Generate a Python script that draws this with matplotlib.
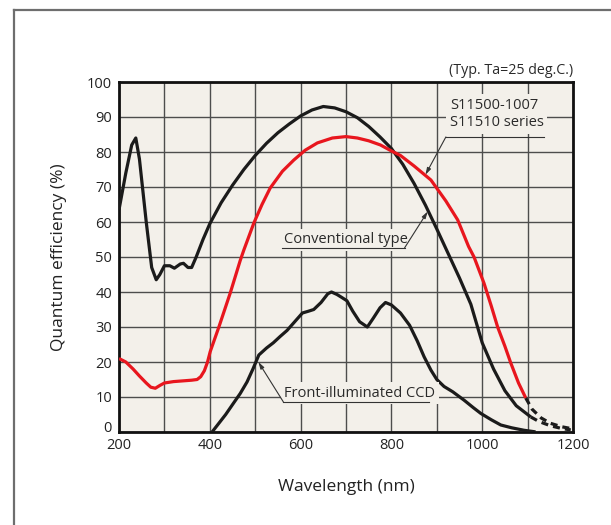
import matplotlib
matplotlib.use("Agg")
import matplotlib.pyplot as plt
import matplotlib.transforms as mtransforms
from matplotlib.lines import Line2D

plt.rcParams['font.family'] = ['Open Sans', 'DejaVu Sans']

# Spectral response data (wavelength in nm, quantum efficiency in %)
wl_conv = [200, 215, 228, 237, 245, 260, 272, 282, 290, 300, 312, 322, 335, 342,
           352, 360, 370, 385, 400, 425, 450, 475, 500, 525, 550, 575, 600, 625,
           650, 675, 700, 725, 750, 775, 800, 825, 850, 875, 900, 925, 950, 975,
           1000, 1025, 1050, 1075, 1100, 1107]
qe_conv = [63.5, 74, 82, 84, 78, 60, 47, 43.5, 45, 47.5, 47.5, 46.8, 48, 48.2,
           47, 47, 50, 55, 59.5, 65.5, 70.5, 75, 79, 82.5, 85.5, 88, 90.3, 92,
           93, 92.6, 91.5, 89.8, 87.3, 84.3, 81, 76.5, 71, 64.8, 58, 51, 44, 36.5,
           25.5, 18, 11.8, 7.5, 5, 4.3]
wl_conv_ext = [1107, 1125, 1150, 1175, 1195]
qe_conv_ext = [4.3, 3, 1.8, 1.0, 0.6]

wl_s11500 = [200, 215, 231, 245, 260, 270, 280, 290, 300, 320, 340, 360, 372, 380,
             388, 395, 401, 420, 445, 467, 475, 497, 515, 533, 560, 585, 610, 637,
             670, 700, 725, 750, 776, 800, 820, 850, 887, 920, 946, 970, 982, 1004,
             1020, 1034, 1050, 1063, 1080, 1096]
qe_s11500 = [21, 20, 18, 16, 14, 12.8, 12.5, 13.3, 14, 14.4, 14.6, 14.8, 15, 15.8,
             17.5, 20, 23, 30, 39.7, 49, 52, 59.7, 65, 69.7, 74.5, 77.7, 80.5, 82.6,
             84, 84.4, 84, 83.2, 82, 80.3, 79, 76, 72, 66, 60.6, 53, 50, 42.5,
             36, 30, 24.5, 19.7, 14, 9.7]
wl_s11500_ext = [1096, 1110, 1130, 1150, 1175, 1195]
qe_s11500_ext = [9.7, 6.5, 4.0, 2.5, 1.5, 1.0]

wl_fi = [405, 420, 435, 452, 467, 482, 495, 508, 525, 540, 555, 570, 587, 604,
         617, 629, 645, 660, 668, 680, 690, 702, 715, 730, 747, 760, 775, 787,
         800, 820, 840, 857, 872, 887, 900, 916, 935, 960, 980, 997, 1020, 1041,
         1065, 1092, 1114]
qe_fi = [0, 2.5, 5, 8.2, 11, 14.3, 18, 22, 24, 25.5, 27.3, 29, 31.5, 34,
         34.5, 35, 37, 39.5, 40, 39.3, 38.5, 37.5, 34.5, 31.5, 30, 32.5, 35.5, 37,
         36.3, 34, 30.5, 26, 21.5, 17.7, 15, 13, 11.5, 9.1, 7, 5.3, 3.5, 2,
         1.2, 0.5, 0.1]

x_ticks = [200, 400, 600, 800, 1000, 1200]
y_ticks = [0, 10, 20, 30, 40, 50, 60, 70, 80, 90, 100]

BG = '#f3f0ea'
GRID = '#4d4d4d'
RED = '#e8161e'
DARK = '#1b1b1b'

fig = plt.figure(figsize=(6.11, 5.25), dpi=100)
ax = fig.add_axes([119 / 611, 1 - 432 / 525, 454 / 611, 350 / 525])
ax.set_facecolor(BG)

ax.set_xlim(200, 1200)
ax.set_ylim(0, 100)
ax.set_xticks(x_ticks)
ax.set_xticks(range(200, 1201, 100), minor=True)
ax.set_yticks(y_ticks)
ax.tick_params(axis='both', which='both', length=0, labelsize=10.5, colors='#222222')
ax.tick_params(axis='y', pad=5)
ax.tick_params(axis='x', pad=4)
ax.grid(True, which='both', color=GRID, linewidth=1.0, zorder=0)
ax.set_axisbelow(True)
for s in ax.spines.values():
    s.set_linewidth(2.0)
    s.set_color('#111111')

# Lift the "0" label a little so it clears the x labels
fig.canvas.draw()
zero_lab = ax.get_yticklabels()[0]
zero_lab.set_transform(zero_lab.get_transform() +
                       mtransforms.ScaledTranslation(0, 5 / 100, fig.dpi_scale_trans))

# Curves
ax.plot(wl_conv, qe_conv, color=DARK, lw=2.3, solid_capstyle='butt', zorder=3)
ax.plot(wl_conv_ext, qe_conv_ext, color=DARK, lw=2.3, ls=(0, (2.2, 1.6)), zorder=3)
ax.plot(wl_s11500, qe_s11500, color=RED, lw=2.3, solid_capstyle='butt', zorder=3)
ax.plot(wl_s11500_ext, qe_s11500_ext, color=DARK, lw=2.3, ls=(0, (2.2, 1.6)), zorder=3)
ax.plot(wl_fi, qe_fi, color=DARK, lw=2.3, zorder=3)

# Labels with underlines and leader lines
lab_kw = dict(fontsize=10.5, color='#2a2a2a', zorder=4,
              bbox=dict(facecolor=BG, edgecolor='none', pad=2.5))
lead_kw = dict(color='#333333', lw=0.8, zorder=4)
arrow_kw = dict(arrowstyle='-|>,head_length=0.4,head_width=0.12',
                color='#333333', lw=0.8, shrinkA=0, shrinkB=0)

ax.text(929, 93.4, 'S11500-1007', va='center', ha='left', **lab_kw)
ax.text(929, 88.3, 'S11510 series', va='center', ha='left', **lab_kw)
ax.add_line(Line2D([920, 1136], [84.3, 84.3], **lead_kw))
ax.annotate('', xy=(875, 73.5), xytext=(920, 84.3), arrowprops=arrow_kw, zorder=4)

ax.text(564, 55.0, 'Conventional type', va='center', ha='left', **lab_kw)
ax.add_line(Line2D([560, 829], [52.6, 52.6], **lead_kw))
ax.annotate('', xy=(880, 63.0), xytext=(829, 52.6), arrowprops=arrow_kw, zorder=4)

ax.text(564, 11.1, 'Front-illuminated CCD', va='center', ha='left', **lab_kw)
ax.add_line(Line2D([562, 882], [8.6, 8.6], **lead_kw))
ax.annotate('', xy=(507, 20.0), xytext=(562, 8.6), arrowprops=arrow_kw, zorder=4)

ax.text(1.0, 1.034, '(Typ. Ta=25 deg.C.)', transform=ax.transAxes,
        ha='right', va='center', fontsize=10.3, color='#2a2a2a')

ax.set_xlabel('Wavelength (nm)', fontsize=12.5, color='#222222', labelpad=19)
ax.set_ylabel('Quantum efficiency (%)', fontsize=12.5, color='#222222', labelpad=14)

# Page frame (left and top edges)
fig.add_artist(Line2D([14 / 611, 14 / 611], [0, 1 - 10 / 525],
                      transform=fig.transFigure, color='#6e6e6e', lw=1.6))
fig.add_artist(Line2D([14 / 611, 1], [1 - 10 / 525, 1 - 10 / 525],
                      transform=fig.transFigure, color='#6e6e6e', lw=1.6))

fig.savefig('out.png', dpi=100, facecolor='white')
